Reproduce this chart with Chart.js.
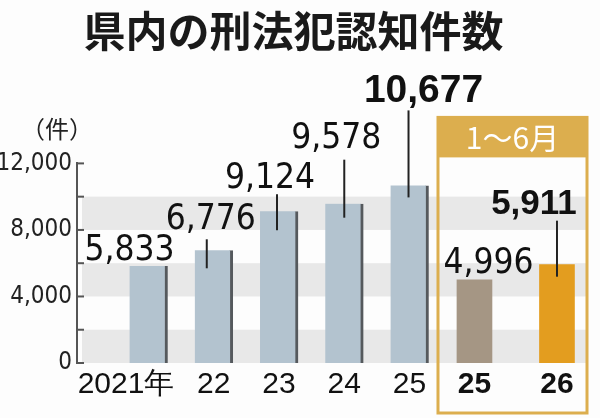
<!DOCTYPE html>
<html lang="ja">
<head>
<meta charset="utf-8">
<script src="https://cdn.jsdelivr.net/npm/chart.js@4.4.1/dist/chart.umd.min.js"></script>
<style>
  html, body { margin: 0; padding: 0; background: #fdfdfd; }
  #contenedor { width: 600px; height: 418px; }
</style>
</head>
<body>
<div id="contenedor"><canvas id="grafica"></canvas></div>
<script>
// Datos de la gráfica
const titulo = '県内の刑法犯認知件数';
const unidad = '（件）';
const aniosCompletos = ['2021年', '22', '23', '24', '25'];
const casosCompletos = [5833, 6776, 9124, 9578, 10677];
const etiquetaSemestre = '1〜6月';
const aniosSemestre = ['25', '26'];
const casosSemestre = [4996, 5911];
const marcasEje = [0, 4000, 8000, 12000];

// Estilos
const fuenteCJK = '"Noto Sans CJK JP", "Noto Sans", sans-serif';
const fuenteAngosta = '"Liberation Sans Narrow", "DejaVu Sans Condensed", sans-serif';
const fuenteNormal = '"Liberation Sans", Arial, sans-serif';
const colorCompleto = '#b3c3cf';
const coloresSemestre = ['#a59684', '#e39d1f'];
const colorCaja = '#dcae4e';

// Rangos de los dos ejes x (comparten el mismo ancho)
const rangoX = { min: -1.096, max: 6.72 };
const rangoX2 = { min: -4.818, max: 1.364 };

// Posición de cada etiqueta respecto al tope de su barra (dx, dy, línea guía)
const posEtiquetas = [
  [
    { dx: -19, dy: -6 },
    { dx: -3, dy: -21, linea: [-7, -11, 18] },
    { dx: -9, dy: -23, linea: [-2, -17, 19] },
    { dx: -8, dy: -56, linea: [0, -44, 14] },
    { dx: 14, dy: -83, linea: [-1, -75, 12], negrita: 39 }
  ],
  [
    { dx: 14, dy: -7 },
    { dx: -23, dy: -51, linea: [0, -44, 12], negrita: 35 }
  ]
];

const formato = (v) => v.toLocaleString('en-US');

// Valor del eje x que cae en la misma posición que un valor del eje x2
const deX2aX = (v) =>
  rangoX.min + (v - rangoX2.min) * (rangoX.max - rangoX.min) / (rangoX2.max - rangoX2.min);

// Franjas grises del fondo
const franjas = {
  id: 'franjas',
  beforeDatasetsDraw(chart) {
    const { ctx, chartArea, scales: { y } } = chart;
    const paso = y.options.ticks.stepSize;
    ctx.save();
    ctx.fillStyle = '#e8e8e8';
    for (let v = 0; v < y.max; v += paso * 2) {
      const arriba = y.getPixelForValue(v + paso);
      const abajo = y.getPixelForValue(v);
      ctx.fillRect(chartArea.left + 5, arriba, chartArea.right - chartArea.left - 5, abajo - arriba);
    }
    ctx.restore();
  }
};

// Caja del periodo enero-junio
const caja = {
  id: 'caja',
  afterDatasetsDraw(chart) {
    const { ctx, chartArea, scales: { x, x2 } } = chart;
    const izq = (x.getPixelForValue(aniosCompletos.length - 1) + x2.getPixelForValue(0)) / 2 - 4;
    const der = chartArea.right;
    const arriba = chartArea.top - 46;
    const abajo = chart.height - 5;
    ctx.save();
    ctx.fillStyle = colorCaja;
    ctx.fillRect(izq, arriba, der - izq, 40);
    ctx.strokeStyle = colorCaja;
    ctx.lineWidth = 3;
    ctx.strokeRect(izq, arriba, der - izq, abajo - arriba);
    ctx.fillStyle = '#ffffff';
    ctx.font = '30px ' + fuenteCJK;
    ctx.textAlign = 'center';
    ctx.textBaseline = 'middle';
    ctx.fillText(etiquetaSemestre, (izq + der) / 2, arriba + 20);
    ctx.restore();
  }
};

// Etiquetas de valores con líneas guía
const etiquetas = {
  id: 'etiquetas',
  afterDatasetsDraw(chart) {
    const { ctx } = chart;
    ctx.save();
    chart.data.datasets.forEach((ds, d) => {
      chart.getDatasetMeta(d).data.forEach((barra, i) => {
        const p = posEtiquetas[d][i];
        const valor = ds.data[i].y;
        if (p.linea) {
          ctx.strokeStyle = '#222';
          ctx.lineWidth = 2;
          ctx.beginPath();
          ctx.moveTo(barra.x + p.linea[0], barra.y + p.linea[1]);
          ctx.lineTo(barra.x + p.linea[0], barra.y + p.linea[2]);
          ctx.stroke();
        }
        ctx.fillStyle = '#111';
        ctx.font = p.negrita ? 'bold ' + p.negrita + 'px ' + fuenteNormal : '35px ' + fuenteAngosta;
        ctx.textAlign = 'center';
        ctx.textBaseline = 'alphabetic';
        ctx.fillText(formato(valor), barra.x + p.dx, barra.y + p.dy);
      });
    });
    ctx.restore();
  }
};

// Marcas del eje hacia adentro y unidad
const ejeY = {
  id: 'ejeY',
  afterDraw(chart) {
    const { ctx, chartArea, scales: { y } } = chart;
    ctx.save();
    ctx.strokeStyle = '#555';
    ctx.lineWidth = 2;
    y.ticks.forEach((t) => {
      const py = y.getPixelForValue(t.value);
      ctx.beginPath();
      ctx.moveTo(chartArea.left, py);
      ctx.lineTo(chartArea.left + 7, py);
      ctx.stroke();
    });
    ctx.fillStyle = '#222';
    ctx.font = '24px ' + fuenteCJK;
    ctx.textAlign = 'center';
    ctx.textBaseline = 'middle';
    ctx.fillText(unidad, chartArea.left - 20, chartArea.top - 35);
    ctx.restore();
  }
};

// Función para generar la gráfica
function generarGrafica(grafica) {
  const nCompletos = aniosCompletos.length;
  const etiquetasX = [...aniosCompletos, ...aniosSemestre];
  new Chart(grafica, {
    type: 'bar',
    data: {
      datasets: [
        {
          label: '年',
          data: casosCompletos.map((v, i) => ({ x: i, y: v })),
          xAxisID: 'x',
          backgroundColor: colorCompleto,
          borderColor: '#55595d',
          borderWidth: { right: 3, left: 0, top: 0, bottom: 0 },
          borderSkipped: false,
          barThickness: 38,
          grouped: false
        },
        {
          label: etiquetaSemestre,
          data: casosSemestre.map((v, i) => ({ x: i, y: v })),
          xAxisID: 'x2',
          backgroundColor: coloresSemestre,
          borderWidth: 0,
          barThickness: 35,
          grouped: false
        }
      ]
    },
    plugins: [franjas, caja, etiquetas, ejeY],
    options: {
      responsive: true,
      maintainAspectRatio: false,
      animation: false,
      layout: { padding: { left: 0, right: 13, top: 0, bottom: 0 } },
      plugins: {
        legend: { display: false },
        tooltip: { enabled: false },
        title: {
          display: true,
          text: titulo,
          color: '#1a1a1a',
          font: { family: fuenteCJK, size: 42, weight: 'bold', lineHeight: 1.2 },
          padding: { top: 6, bottom: 107 }
        }
      },
      scales: {
        y: {
          min: 0,
          max: 12000,
          grid: { display: false, drawTicks: false },
          border: { display: true, color: '#555', width: 2 },
          ticks: {
            stepSize: 2000,
            padding: 5,
            color: '#222',
            font: { family: fuenteAngosta, size: 24 },
            callback: (v) => (marcasEje.includes(v) ? formato(v) : '')
          },
          afterFit: (s) => { s.width = 77; }
        },
        x: {
          type: 'linear',
          offset: false,
          bounds: 'data',
          min: rangoX.min,
          max: rangoX.max,
          grid: { display: false, drawTicks: false, offset: false },
          border: { display: false },
          // una marca por barra: las anuales y las del semestre
          afterBuildTicks: (s) => {
            s.ticks = [
              ...aniosCompletos.map((_, i) => ({ value: i })),
              ...aniosSemestre.map((_, i) => ({ value: deX2aX(i) }))
            ];
          },
          ticks: {
            autoSkip: false,
            maxRotation: 0,
            padding: 4,
            color: '#111',
            font: (c) => ({ family: fuenteNormal, size: 30, weight: c.index >= nCompletos ? 'bold' : 'normal' }),
            // el primer rótulo lleva espacio a la derecha para correrlo a la izquierda
            callback: (v, i) => (i === 0 ? etiquetasX[i] + '\u2002\u2002\u2002' : etiquetasX[i])
          },
          afterFit: (s) => { s.height = 55; }
        },
        x2: {
          type: 'linear',
          display: false,
          offset: false,
          bounds: 'data',
          min: rangoX2.min,
          max: rangoX2.max
        }
      }
    }
  });
}

generarGrafica(document.getElementById('grafica'));
</script>
</body>
</html>
